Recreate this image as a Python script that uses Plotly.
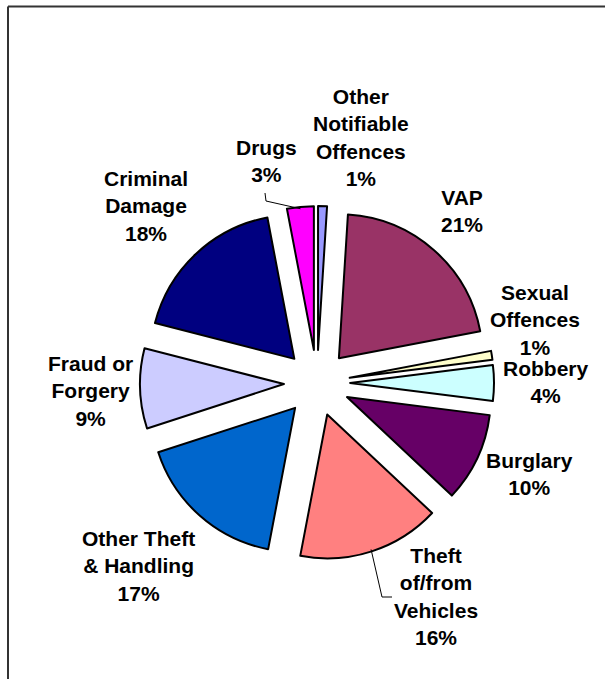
import math
import plotly.graph_objects as go

categories = ["Other Notifiable Offences", "VAP", "Sexual Offences", "Robbery", "Burglary",
              "Theft of/from Vehicles", "Other Theft & Handling", "Fraud or Forgery",
              "Criminal Damage", "Drugs"]
label_lines = ["Other<br>Notifiable<br>Offences", "VAP", "Sexual<br>Offences", "Robbery", "Burglary",
               "Theft<br>of/from<br>Vehicles", "Other Theft<br>& Handling", "Fraud or<br>Forgery",
               "Criminal<br>Damage", "Drugs"]
values = [1, 21, 1, 4, 10, 16, 17, 9, 18, 3]
colors = ["#9999FF", "#993366", "#FFFFCC", "#CCFFFF", "#660066",
          "#FF8080", "#0066CC", "#CCCCFF", "#000080", "#FF00FF"]

# layout (pixels)
W, H = 605, 679
cx, cy, R = 317, 383, 177
PULL = 0.23
label_xy = [(361, 138), (462, 211), (535, 320), (546, 382), (529, 474),
            (436, 596), (138, 566), (90, 391), (146, 206), (266, 161)]
# leader lines: slice index -> label-side path points
leaders = {9: [(266, 201), (265, 193)], 5: [(382, 597), (392, 597)]}


def px(x):
    return x / W


def py(y):
    return 1 - y / H


fig = go.Figure(go.Pie(
    labels=categories, values=values, sort=False, direction="clockwise", rotation=0,
    pull=[PULL] * len(values), automargin=False, textinfo="none",
    marker=dict(colors=colors, line=dict(color="black", width=2)),
    showlegend=False, hoverinfo="label+percent",
    domain=dict(x=[px(cx - R), px(cx + R)], y=[py(cy + R), py(cy - R)]),
))

total = sum(values)
cum = 0
for i, v in enumerate(values):
    mid = 2 * math.pi * (cum + v / 2) / total
    cum += v
    pct = round(100 * v / total)
    x, y = label_xy[i]
    fig.add_annotation(x=px(x), y=py(y), xref="paper", yref="paper", showarrow=False,
                       text=f"{label_lines[i]}<br>{pct}%", xanchor="center", yanchor="middle",
                       align="center",
                       font=dict(family="Liberation Sans, Arial", size=21, color="black", weight="bold"))
    if i in leaders:
        sx = cx + (R - 2) * math.sin(mid)
        sy = cy - (R - 2) * math.cos(mid)
        pts = [(sx, sy)] + leaders[i]
        path = "M " + " L ".join(f"{px(a)},{py(b)}" for a, b in pts)
        fig.add_shape(type="path", xref="paper", yref="paper", path=path,
                      line=dict(color="black", width=1))

# chart frame: only the left and top edges show in the reference
fig.add_shape(type="line", xref="paper", yref="paper", x0=px(8), x1=px(8), y0=0, y1=py(6.5),
              line=dict(color="#333333", width=2))
fig.add_shape(type="line", xref="paper", yref="paper", x0=px(8), x1=1, y0=py(6.5), y1=py(6.5),
              line=dict(color="#333333", width=2))
fig.update_layout(width=W, height=H, margin=dict(l=0, r=0, t=0, b=0, pad=0, autoexpand=False),
                  paper_bgcolor="white", plot_bgcolor="white")
fig.write_html("out.html", config={"displayModeBar": False},
               post_script="document.body.style.margin='0';document.body.style.overflow='hidden';")
